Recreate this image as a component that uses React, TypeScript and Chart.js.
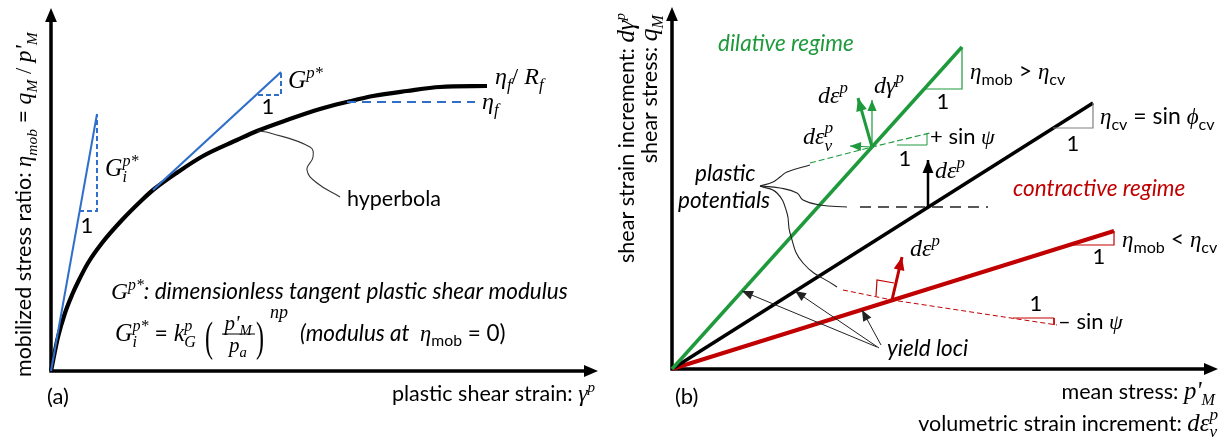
import React, { useEffect, useRef } from 'react';
import { Chart, registerables } from 'chart.js';

Chart.register(...registerables);

const SANS = 'Lato, "Open Sans", "DejaVu Sans", sans-serif';
const MATH = '"Liberation Serif", "DejaVu Serif", serif';

const BLUE = '#2f6fc9';
const GREEN = '#1e9a3c';
const RED = '#c00000';
const BLACK = '#000000';
const GREY = '#808080';

// ---------- Panel (a): values (arbitrary units) ----------
const hyperbolaGamma = [0, 7, 14, 21, 27, 37, 51, 71, 91, 102, 127, 152, 186, 206, 236, 269, 296, 322, 356, 389, 436];
const hyperbolaEta = [0, 34, 58, 76, 89, 108, 128, 151, 171, 181, 199, 215, 231, 240, 251, 262, 269, 275, 280, 284, 285];
const initTangentGamma = [0, 46];
const initTangentEta = [0, 257];
const initStepGamma = [28, 46, 46];
const initStepEta = [160, 160, 257];
const tangentGamma = [102, 230];
const tangentEta = [181, 299];
const tangentStepGamma = [207, 230, 230];
const tangentStepEta = [276, 276, 299];
const etaFGamma = [296, 424];
const etaFEta = [269, 269];
const hyperbolaPointerGamma = [206, 219, 259, 262, 256, 266, 289];
const hyperbolaPointerEta = [240, 238, 224, 214, 201, 188, 174];

// ---------- Panel (b): values (arbitrary units) ----------
const dilativeP = [0, 290];
const dilativeQ = [0, 322];
const csP = [0, 421];
const csQ = [0, 266];
const contractiveP = [0, 442];
const contractiveQ = [0, 138];
const dilativeStepP = [253, 290, 290];
const dilativeStepQ = [280, 280, 322];
const csStepP = [381, 421, 421];
const csStepQ = [241, 241, 266];
const contractiveStepP = [400, 442, 442];
const contractiveStepQ = [124, 124, 138];
const potDilP = [138, 200, 258];
const potDilQ = [206, 222, 236];
const potDilStepP = [225, 255, 255];
const potDilStepQ = [224, 224, 236];
const potCsP = [188, 316];
const potCsQ = [162, 162];
const potConP = [171, 220, 385];
const potConQ = [79, 69, 44];
const potConStepP = [341, 382, 382];
const potConStepQ = [51, 51, 44];
const flowDilP = [200, 186];
const flowDilQ = [222, 271];
const shearDilP = [200, 200];
const shearDilQ = [222, 269];
const volDilP = [200, 178];
const volDilQ = [222, 223];
const flowCsP = [256, 256];
const flowCsQ = [162, 209];
const flowConP = [220, 230];
const flowConQ = [69, 112];
const rightAngleP = [204, 205, 222];
const rightAngleQ = [73, 89, 86];
const yieldArrowsP = [[205, 70], [207, 123], [209, 190]];
const yieldArrowsQ = [[22, 78], [21, 78], [24, 59]];
const connDilP = [88, 101, 108, 115, 138];
const connDilQ = [183, 187, 192, 197, 204];
const connCsP = [88, 108, 125, 131, 148, 175];
const connCsQ = [183, 181, 176, 169, 164, 162];
const connConP = [88, 105, 115, 118, 131, 165];
const connConQ = [183, 176, 156, 136, 106, 82];

type Seg = { t: string; f?: 'n' | 'i' | 'm' | 'u'; z?: number; d?: number; k?: boolean };
type Note = { x: number; y: number; segs: Seg[]; size: number; color?: string; align?: 'left' | 'right' | 'center'; rot?: boolean; sy?: number };
type Bar = { x1: number; x2: number; y: number };

const n = (t: string): Seg => ({ t, f: 'n' });
const it = (t: string): Seg => ({ t, f: 'i' });
const m = (t: string): Seg => ({ t, f: 'm' });
const u = (t: string): Seg => ({ t, f: 'u' });
const sub = (t: string, f: Seg['f'] = 'n', k = false): Seg => ({ t, f, z: 0.7, d: 0.24, k });
const sup = (t: string, f: Seg['f'] = 'm', k = false): Seg => ({ t, f, z: 0.7, d: -0.42, k });

function fontOf(s: Seg, base: number) {
  const sz = base * (s.z ?? 1);
  switch (s.f) {
    case 'i': return `italic ${sz}px ${SANS}`;
    case 'm': return `italic ${sz}px ${MATH}`;
    case 'u': return `${sz}px ${MATH}`;
    default: return `${sz}px ${SANS}`;
  }
}

function drawRich(ctx: CanvasRenderingContext2D, nt: Note, px: number, py: number) {
  const base = nt.size;
  ctx.save();
  ctx.translate(px, py);
  if (nt.rot) ctx.rotate(-Math.PI / 2);
  if (nt.sy) ctx.scale(1, nt.sy);
  ctx.fillStyle = nt.color || BLACK;
  ctx.textBaseline = 'alphabetic';
  ctx.textAlign = 'left';
  const items: { s: Seg; x0: number; font: string }[] = [];
  let cx = 0;
  let gStart: number | null = null;
  let gW = 0;
  for (const s of nt.segs) {
    const f = fontOf(s, base);
    ctx.font = f;
    const w = ctx.measureText(s.t).width;
    let x0: number;
    if (gStart !== null) {
      x0 = gStart; gW = Math.max(gW, w); cx = gStart + gW; gStart = null;
    } else if (s.k) {
      x0 = cx; gStart = cx; gW = w;
    } else {
      x0 = cx; cx += w;
    }
    items.push({ s, x0, font: f });
  }
  const off = nt.align === 'right' ? -cx : nt.align === 'center' ? -cx / 2 : 0;
  for (const itm of items) {
    ctx.font = itm.font;
    ctx.fillText(itm.s.t, itm.x0 + off, (itm.s.d || 0) * base);
  }
  ctx.restore();
}

function drawHead(ctx: CanvasRenderingContext2D, ax: number, ay: number, bx: number, by: number, len: number, color: string) {
  const ang = Math.atan2(by - ay, bx - ax);
  const hw = len * 0.42;
  ctx.save();
  ctx.fillStyle = color;
  ctx.beginPath();
  ctx.moveTo(bx, by);
  ctx.lineTo(bx - len * Math.cos(ang) + hw * Math.sin(ang), by - len * Math.sin(ang) - hw * Math.cos(ang));
  ctx.lineTo(bx - len * Math.cos(ang) - hw * Math.sin(ang), by - len * Math.sin(ang) + hw * Math.cos(ang));
  ctx.closePath();
  ctx.fill();
  ctx.restore();
}

function makePlugin(notes: Note[], bars: Bar[]) {
  return {
    id: 'schematic',
    beforeDatasetsDraw(chart: any) {
      const { ctx, chartArea: ca } = chart;
      ctx.save();
      ctx.strokeStyle = BLACK;
      ctx.lineWidth = 3.5;
      ctx.beginPath();
      ctx.moveTo(ca.left, ca.bottom);
      ctx.lineTo(ca.left, ca.top + 10);
      ctx.moveTo(ca.left - 1.75, ca.bottom);
      ctx.lineTo(ca.right - 10, ca.bottom);
      ctx.stroke();
      ctx.restore();
      drawHead(ctx, ca.left, ca.bottom, ca.left, ca.top, 14, BLACK);
      drawHead(ctx, ca.left, ca.bottom, ca.right, ca.bottom, 14, BLACK);
    },
    afterDatasetsDraw(chart: any) {
      const ctx = chart.ctx;
      chart.data.datasets.forEach((ds: any, di: number) => {
        if (!ds.arrow) return;
        const pts = chart.getDatasetMeta(di).data;
        const a = pts[pts.length - 2];
        const b = pts[pts.length - 1];
        drawHead(ctx, a.x, a.y, b.x, b.y, ds.arrow, ds.borderColor);
      });
    },
    afterDraw(chart: any) {
      const { ctx, scales } = chart;
      const X = (v: number) => scales.x.getPixelForValue(v);
      const Y = (v: number) => scales.y.getPixelForValue(v);
      ctx.save();
      ctx.strokeStyle = BLACK;
      ctx.lineWidth = 1;
      bars.forEach((b) => {
        ctx.beginPath();
        ctx.moveTo(X(b.x1), Y(b.y));
        ctx.lineTo(X(b.x2), Y(b.y));
        ctx.stroke();
      });
      ctx.restore();
      notes.forEach((nt) => drawRich(ctx, nt, X(nt.x), Y(nt.y)));
    },
  };
}

function line(xs: number[], ys: number[], color: string, width: number, extra: any = {}) {
  return {
    data: xs.map((x, i) => ({ x, y: ys[i] })),
    borderColor: color,
    backgroundColor: color,
    borderWidth: width,
    pointRadius: 0,
    fill: false,
    clip: false,
    tension: 0,
    borderCapStyle: 'butt',
    ...extra,
  };
}

function baseOptions(pad: any, xmax: number, ymax: number) {
  return {
    responsive: false,
    animation: false,
    events: [],
    layout: { padding: pad },
    plugins: { legend: { display: false }, tooltip: { enabled: false } },
    scales: {
      x: { type: 'linear', min: 0, max: xmax, display: false },
      y: { type: 'linear', min: 0, max: ymax, display: false },
    },
  };
}

const SN = 21.5; // sans size
const SI = 22.5; // sans italic size

const leftNotes: Note[] = [
  { x: -20, y: -6, rot: true, align: 'left', size: SN, segs: [n('mobilized stress ratio: '), { t: 'η', f: 'm', z: 1.05 }, { t: 'mob', f: 'm', z: 0.72, d: 0.26 }, { t: ' = ', f: 'n', z: 1.05 }, { t: 'q', f: 'm', z: 1.1 }, { t: 'M', f: 'm', z: 0.72, d: 0.26 }, { t: ' / ', f: 'u', z: 1.05 }, { t: "p'", f: 'm', z: 1.1 }, { t: 'M', f: 'm', z: 0.72, d: 0.26 }] },
  { x: -4, y: -33, size: 22, segs: [n('(a)')] },
  { x: 544, y: -30, size: SN, align: 'right', segs: [n('plastic shear strain: '), { t: 'γ', f: 'm', z: 1.1 }, sup('p', 'm')] },
  { x: 60, y: 72, size: SI, segs: [{ t: 'G', f: 'm', z: 1.05 }, sup('p*', 'm'), it(': dimensionless tangent plastic shear modulus')] },
  { x: 64, y: 30, size: 23, segs: [{ t: 'G', f: 'm', z: 1.05 }, sub('i', 'm', true), sup('p*', 'm'), n(' = '), { t: 'k', f: 'm', z: 1.05 }, sub('G', 'm', true), sup('p', 'm')] },
  { x: 154, y: 20, size: 24, sy: 1.75, segs: [u('(')] },
  { x: 187, y: 41, size: 21, align: 'center', segs: [m("p'"), sub('M', 'm')] },
  { x: 187, y: 19, size: 21, align: 'center', segs: [m('p'), sub('a', 'm')] },
  { x: 205, y: 20, size: 24, sy: 1.75, segs: [u(')')] },
  { x: 219, y: 53, size: 18, segs: [m('np')] },
  { x: 249, y: 30, size: SI, segs: [it('(modulus at  '), { t: 'η', f: 'm', z: 1.0 }, sub('mob', 'n'), n(' = 0)')] },
  { x: 54, y: 195, size: 23, segs: [{ t: 'G', f: 'm', z: 1.05 }, sub('i', 'm', true), sup('p*', 'm')] },
  { x: 36, y: 138, size: 22, align: 'center', segs: [n('1')] },
  { x: 237, y: 283, size: 24, segs: [{ t: 'G', f: 'm', z: 1.05 }, sup('p*', 'm')] },
  { x: 217, y: 257, size: 22, align: 'center', segs: [n('1')] },
  { x: 444, y: 287, size: 24, segs: [m('η'), sub('f', 'm'), u('/ '), m('R'), sub('f', 'm')] },
  { x: 431, y: 262, size: 24, segs: [m('η'), sub('f', 'm')] },
  { x: 296, y: 165, size: SN, segs: [n('hyperbola')] },
];
const leftBars: Bar[] = [{ x1: 171, x2: 204, y: 37 }];

const rightNotes: Note[] = [
  { x: -38, y: 356, rot: true, align: 'right', size: SN, segs: [n('shear strain increment: '), { t: 'dγ', f: 'm', z: 1.15 }, sup('p', 'm')] },
  { x: -15, y: 354, rot: true, align: 'right', size: SN, segs: [n('shear stress: '), { t: 'q', f: 'm', z: 1.2 }, { t: 'M', f: 'm', z: 0.75, d: 0.26 }] },
  { x: 3, y: -35, size: 22, segs: [n('(b)')] },
  { x: 543, y: -30, size: SN, align: 'right', segs: [n('mean stress: '), { t: "p'", f: 'm', z: 1.15 }, { t: 'M', f: 'm', z: 0.75, d: 0.26 }] },
  { x: 546, y: -62, size: SN, align: 'right', segs: [n('volumetric strain increment: '), { t: 'dε', f: 'm', z: 1.15 }, { t: 'v', f: 'm', z: 0.8, d: 0.3, k: true }, { t: 'p', f: 'm', z: 0.8, d: -0.5 }] },
  { x: 46, y: 318, size: SI, color: GREEN, segs: [it('dilative regime')] },
  { x: 341, y: 173, size: SI, color: RED, segs: [it('contractive regime')] },
  { x: 298, y: 290, size: 23, segs: [m('η'), sub('mob', 'n'), n(' > '), m('η'), sub('cv', 'n')] },
  { x: 271, y: 260, size: 22, align: 'center', segs: [n('1')] },
  { x: 428, y: 245, size: 23, segs: [m('η'), sub('cv', 'n'), n(' = sin '), m('ϕ'), sub('cv', 'n')] },
  { x: 401, y: 218, size: 22, align: 'center', segs: [n('1')] },
  { x: 450, y: 122, size: 23, segs: [m('η'), sub('mob', 'n'), n(' < '), m('η'), sub('cv', 'n')] },
  { x: 427, y: 105, size: 22, align: 'center', segs: [n('1')] },
  { x: 258, y: 225, size: 22, segs: [n('+ sin '), m('ψ')] },
  { x: 233, y: 203, size: 22, align: 'center', segs: [n('1')] },
  { x: 263, y: 191, size: 24, segs: [m('dε'), sup('p', 'm')] },
  { x: 238, y: 113, size: 24, segs: [m('dε'), sup('p', 'm')] },
  { x: 364, y: 58, size: 22, align: 'center', segs: [n('1')] },
  { x: 386, y: 40, size: 22, segs: [n('– sin '), m('ψ')] },
  { x: 215, y: 13, size: SI, segs: [it('yield loci')] },
  { x: 23, y: 188, size: SI, segs: [it('plastic')] },
  { x: 6, y: 161, size: SI, segs: [it('potentials')] },
  { x: 146, y: 266, size: 24, segs: [m('dε'), sup('p', 'm')] },
  { x: 202, y: 276, size: 24, segs: [m('dγ'), sup('p', 'm')] },
  { x: 131, y: 225, size: 24, segs: [m('dε'), { t: 'v', f: 'm', z: 0.72, d: 0.28, k: true }, { t: 'p', f: 'm', z: 0.72, d: -0.45 }] },
];

function leftConfig(): any {
  return {
    type: 'line',
    data: {
      datasets: [
        line(initStepGamma, initStepEta, BLUE, 2, { borderDash: [5, 3] }),
        line(tangentStepGamma, tangentStepEta, BLUE, 2, { borderDash: [5, 3] }),
        line(etaFGamma, etaFEta, BLUE, 2, { borderDash: [9, 6] }),
        line(initTangentGamma, initTangentEta, BLUE, 2),
        line(tangentGamma, tangentEta, BLUE, 2.2),
        line(hyperbolaPointerGamma, hyperbolaPointerEta, '#333333', 1.1, { tension: 0.45 }),
        line(hyperbolaGamma, hyperbolaEta, BLACK, 4.2, { cubicInterpolationMode: 'monotone' }),
      ],
    },
    options: baseOptions({ left: 51, right: 17, top: 8, bottom: 72 }, 547, 363),
    plugins: [makePlugin(leftNotes, leftBars)],
  };
}

function rightConfig(): any {
  const yieldSets = yieldArrowsP.map((ps, i) => line(ps, yieldArrowsQ[i], '#222222', 1, { arrow: 11 }));
  return {
    type: 'line',
    data: {
      datasets: [
        line(potDilP, potDilQ, GREEN, 1.2, { borderDash: [6, 3] }),
        line(potDilStepP, potDilStepQ, GREEN, 1),
        line(potCsP, potCsQ, '#222222', 1.4, { borderDash: [11, 7] }),
        line(potConP, potConQ, RED, 1, { borderDash: [5, 3] }),
        line(potConStepP, potConStepQ, RED, 1),
        line(dilativeStepP, dilativeStepQ, GREEN, 1.2),
        line(csStepP, csStepQ, GREY, 1.2),
        line(contractiveStepP, contractiveStepQ, RED, 1.2),
        line(connDilP, connDilQ, '#222222', 1.1, { tension: 0.45 }),
        line(connCsP, connCsQ, '#222222', 1.1, { tension: 0.45 }),
        line(connConP, connConQ, '#222222', 1.1, { tension: 0.45 }),
        ...yieldSets,
        line(dilativeP, dilativeQ, GREEN, 3.5),
        line(csP, csQ, BLACK, 3.5),
        line(contractiveP, contractiveQ, RED, 4),
        line(rightAngleP, rightAngleQ, RED, 1.2),
        line(flowDilP, flowDilQ, GREEN, 3, { arrow: 13 }),
        line(shearDilP, shearDilQ, GREEN, 1.2, { arrow: 11 }),
        line(volDilP, volDilQ, GREEN, 1.2, { arrow: 11 }),
        line(flowCsP, flowCsQ, BLACK, 2.5, { arrow: 13 }),
        line(flowConP, flowConQ, RED, 3, { arrow: 13 }),
      ],
    },
    options: baseOptions({ left: 57, right: 13, top: 7, bottom: 74 }, 546, 362),
    plugins: [makePlugin(rightNotes, [])],
  };
}

export default function App() {
  const leftRef = useRef<HTMLCanvasElement>(null);
  const rightRef = useRef<HTMLCanvasElement>(null);

  useEffect(() => {
    document.body.style.margin = '0';
    document.body.style.background = '#ffffff';
    const c1 = new Chart(leftRef.current as HTMLCanvasElement, leftConfig());
    const c2 = new Chart(rightRef.current as HTMLCanvasElement, rightConfig());
    return () => {
      c1.destroy();
      c2.destroy();
    };
  }, []);

  return (
    <div style={{ position: 'relative', width: 1231, height: 443, background: '#fff' }}>
      <canvas ref={leftRef} width={615} height={443} style={{ position: 'absolute', left: 0, top: 0 }} />
      <canvas ref={rightRef} width={616} height={443} style={{ position: 'absolute', left: 615, top: 0 }} />
    </div>
  );
}
